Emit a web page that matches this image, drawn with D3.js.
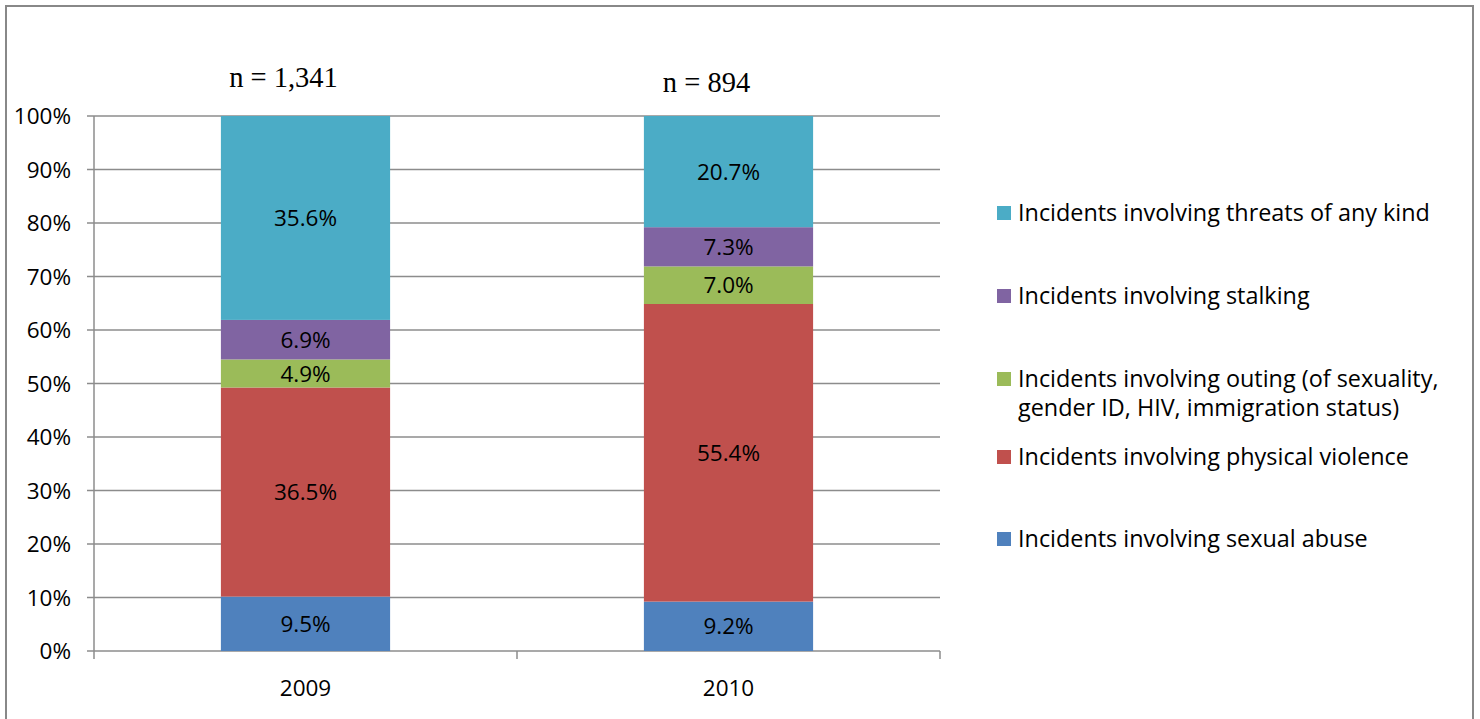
<!DOCTYPE html>
<html><head><meta charset="utf-8">
<script src="https://cdn.jsdelivr.net/npm/d3@7"></script>
<style>body{margin:0;background:#fff;} svg{display:block;}</style>
</head><body>
<svg id="c" width="1480" height="719"></svg>
<script>
const years = ["2009", "2010"];
const sampleSizes = ["n = 1,341", "n = 894"];
const seriesNames = [
  "Incidents involving sexual abuse",
  "Incidents involving physical violence",
  "Incidents involving outing (of sexuality, gender ID, HIV, immigration status)",
  "Incidents involving stalking",
  "Incidents involving threats of any kind"
];
const seriesColors = ["#4F81BD", "#C0504D", "#9BBB59", "#8064A2", "#4BACC6"];
const sexualAbuse = [9.5, 9.2];
const physicalViolence = [36.5, 55.4];
const outing = [4.9, 7.0];
const stalking = [6.9, 7.3];
const threats = [35.6, 20.7];
const yTicks = [0, 10, 20, 30, 40, 50, 60, 70, 80, 90, 100];
const legendLines = [
  ["Incidents involving threats of any kind"],
  ["Incidents involving stalking"],
  ["Incidents involving outing (of sexuality,", "gender ID, HIV, immigration status)"],
  ["Incidents involving physical violence"],
  ["Incidents involving sexual abuse"]
];

const seriesValues = [sexualAbuse, physicalViolence, outing, stalking, threats];
const table = years.map((y, i) => {
  const row = {year: y};
  seriesNames.forEach((s, k) => row[s] = seriesValues[k][i]);
  return row;
});

const svg = d3.select("#c");
const FONT = "'Open Sans', sans-serif";
const FS = 22.5;
// outer border
svg.append("rect").attr("x", 6).attr("y", 6).attr("width", 1467).attr("height", 730)
  .attr("fill", "none").attr("stroke", "#888").attr("stroke-width", 2);

const L = 94, R = 940, T = 116, B = 651;
const x = d3.scaleBand().domain(years).range([L, R]).paddingInner(0.6).paddingOuter(0.3);
const xOuter = d3.scaleBand().domain(years).range([L, R]);
const y = d3.scaleLinear().domain([0, 1]).range([B, T]);

// gridlines
svg.append("g").selectAll("line").data(yTicks).join("line")
  .attr("x1", L - 7).attr("x2", R).attr("y1", d => y(d / 100)).attr("y2", d => y(d / 100))
  .attr("stroke", "#8c8c8c").attr("stroke-width", 1.5);

// y labels
svg.append("g").selectAll("text").data(yTicks).join("text")
  .attr("x", 71).attr("y", d => y(d / 100)).attr("dy", "0.36em")
  .attr("text-anchor", "end").attr("font-family", FONT).attr("font-size", FS).attr("fill", "#000")
  .text(d => d + "%");

// y axis line
svg.append("line").attr("x1", L).attr("x2", L).attr("y1", T).attr("y2", B)
  .attr("stroke", "#8c8c8c").attr("stroke-width", 1.5);
// x axis ticks
const xTickPos = [L, ...years.map(d => xOuter(d) + xOuter.bandwidth())];
svg.append("g").selectAll("line").data(xTickPos).join("line")
  .attr("x1", d => d).attr("x2", d => d).attr("y1", B).attr("y2", B + 8)
  .attr("stroke", "#8c8c8c").attr("stroke-width", 1.5);

const stack = d3.stack().keys(seriesNames).offset(d3.stackOffsetExpand);
const stacked = stack(table);

const g = svg.append("g");
stacked.forEach((layer, k) => {
  g.selectAll(null).data(layer).join("rect")
    .attr("x", d => x(d.data.year)).attr("width", x.bandwidth())
    .attr("y", d => y(d[1])).attr("height", d => y(d[0]) - y(d[1]))
    .attr("fill", seriesColors[k]);
  g.selectAll(null).data(layer).join("text")
    .attr("x", d => x(d.data.year) + x.bandwidth() / 2)
    .attr("y", d => (y(d[0]) + y(d[1])) / 2).attr("dy", "0.36em")
    .attr("text-anchor", "middle").attr("font-family", FONT).attr("font-size", FS).attr("fill", "#000")
    .text(d => d.data[seriesNames[k]].toFixed(1) + "%");
});

// x labels
svg.append("g").selectAll("text").data(years).join("text")
  .attr("x", d => x(d) + x.bandwidth() / 2).attr("y", 688).attr("dy", "0.36em")
  .attr("text-anchor", "middle").attr("font-family", FONT).attr("font-size", FS).attr("fill", "#000")
  .text(d => d);

// n labels
const nOffsetY = [87, 92];
svg.append("g").selectAll("text").data(years).join("text")
  .attr("x", d => x(d) + x.bandwidth() / 2 - 22)
  .attr("y", (d, i) => nOffsetY[i])
  .attr("text-anchor", "middle").attr("font-family", "'Liberation Serif', serif")
  .attr("font-size", 28.5).attr("fill", "#000")
  .text((d, i) => sampleSizes[i]);

// legend
const legendY = [213, 296, 379, 457, 539];
const legendColors = seriesColors.slice().reverse();
const lg = svg.append("g");
legendLines.forEach((lines, i) => {
  lg.append("rect").attr("x", 997).attr("y", legendY[i] - 7).attr("width", 14).attr("height", 14)
    .attr("fill", legendColors[i]);
  lines.forEach((t, j) => {
    lg.append("text").attr("x", 1018).attr("y", legendY[i] + j * 29).attr("dy", "0.36em")
      .attr("font-family", FONT).attr("font-size", 23.4).attr("fill", "#000").text(t);
  });
});
</script>
</body></html>
